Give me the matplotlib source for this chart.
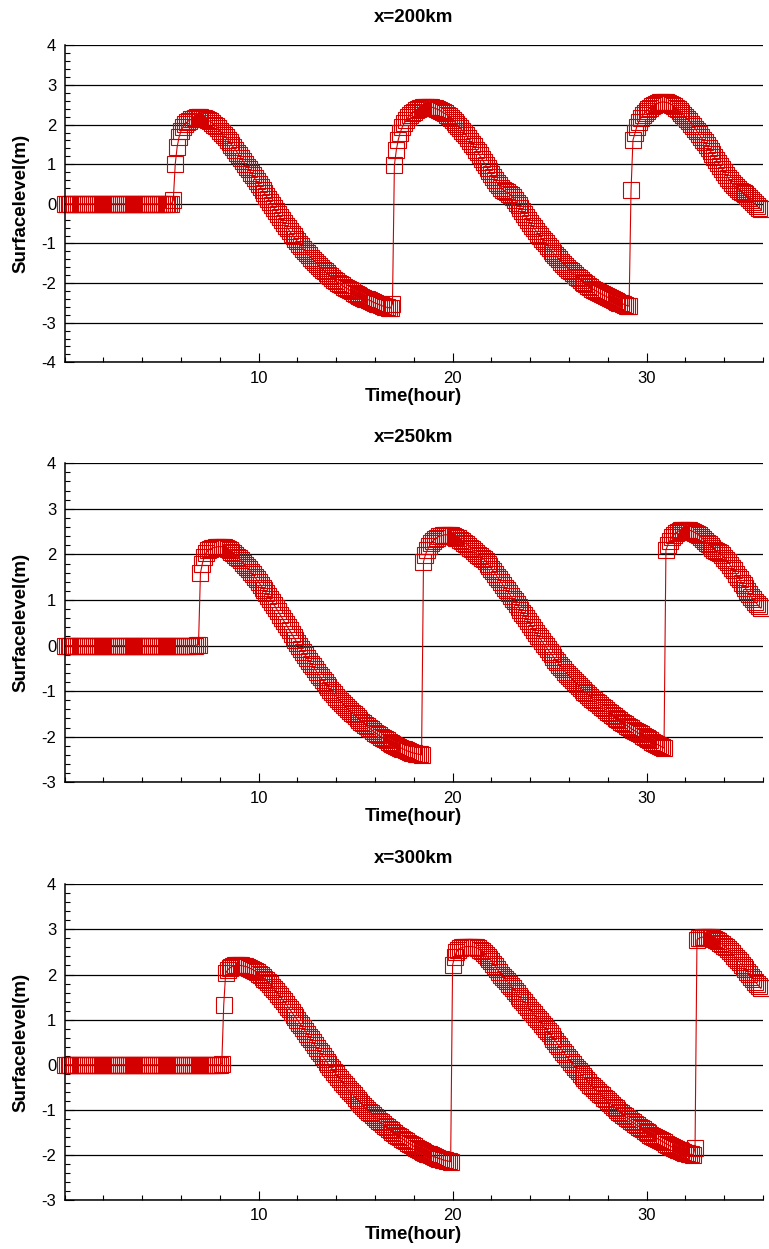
import numpy as np
import matplotlib
matplotlib.use("Agg")
import matplotlib.pyplot as plt
from matplotlib.ticker import MultipleLocator

plt.rcParams['font.family'] = ['Liberation Sans', 'DejaVu Sans']
plt.rcParams['axes.unicode_minus'] = False

# Sampling times (hours), one record every 0.1 h
hours = np.round(np.arange(360) * 0.1, 1)

# Surface level (m) at x = 200 km, one row per hour
level_200km = [
    0, 0, 0, 0, 0, 0, 0, 0, 0, 0,
    0, 0, 0, 0, 0, 0, 0, 0, 0, 0,
    0, 0, 0, 0, 0, 0, 0, 0, 0, 0,
    0, 0, 0, 0, 0, 0, 0, 0, 0, 0,
    0, 0, 0, 0, 0, 0, 0, 0, 0, 0,
    0, 0, 0, 0, 0, 0, 0.09, 1.0, 1.44, 1.69,
    1.84, 1.94, 2.01, 2.06, 2.1, 2.13, 2.15, 2.17, 2.18, 2.18,
    2.18, 2.17, 2.16, 2.14, 2.11, 2.08, 2.04, 2.0, 1.96, 1.91,
    1.85, 1.8, 1.74, 1.68, 1.62, 1.56, 1.49, 1.43, 1.36, 1.29,
    1.22, 1.15, 1.08, 1.01, 0.94, 0.87, 0.79, 0.72, 0.64, 0.57,
    0.49, 0.42, 0.34, 0.27, 0.19, 0.12, 0.04, -0.04, -0.11, -0.19,
    -0.26, -0.34, -0.41, -0.48, -0.55, -0.62, -0.69, -0.76, -0.82, -0.89,
    -0.95, -1.01, -1.07, -1.13, -1.19, -1.25, -1.3, -1.36, -1.41, -1.46,
    -1.51, -1.56, -1.61, -1.66, -1.7, -1.75, -1.79, -1.83, -1.87, -1.91,
    -1.95, -1.99, -2.02, -2.06, -2.09, -2.12, -2.15, -2.18, -2.21, -2.24,
    -2.27, -2.3, -2.32, -2.35, -2.37, -2.39, -2.41, -2.43, -2.45, -2.48,
    -2.5, -2.52, -2.54, -2.56, -2.58, -2.6, -2.61, -2.62, -2.63, -2.52,
    0.98, 1.36, 1.62, 1.8, 1.93, 2.03, 2.11, 2.18, 2.24, 2.29,
    2.33, 2.36, 2.39, 2.41, 2.43, 2.44, 2.45, 2.45, 2.45, 2.44,
    2.43, 2.41, 2.39, 2.37, 2.34, 2.31, 2.28, 2.25, 2.21, 2.17,
    2.12, 2.07, 2.02, 1.97, 1.91, 1.85, 1.79, 1.73, 1.66, 1.59,
    1.52, 1.45, 1.37, 1.3, 1.22, 1.14, 1.06, 0.98, 0.9, 0.82,
    0.75, 0.67, 0.6, 0.53, 0.47, 0.41, 0.36, 0.32, 0.29, 0.26,
    0.22, 0.16, 0.1, 0.03, -0.04, -0.11, -0.19, -0.26, -0.34, -0.41,
    -0.48, -0.55, -0.62, -0.68, -0.75, -0.81, -0.88, -0.94, -1.0, -1.06,
    -1.12, -1.18, -1.24, -1.29, -1.35, -1.4, -1.46, -1.51, -1.56, -1.61,
    -1.66, -1.7, -1.75, -1.79, -1.84, -1.88, -1.92, -1.96, -2.0, -2.03,
    -2.07, -2.1, -2.14, -2.17, -2.2, -2.23, -2.26, -2.28, -2.31, -2.33,
    -2.36, -2.38, -2.41, -2.43, -2.45, -2.47, -2.49, -2.51, -2.53, -2.55,
    -2.57, -2.58, 0.35, 1.61, 1.78, 1.95, 2.07, 2.16, 2.23, 2.29,
    2.34, 2.39, 2.43, 2.47, 2.5, 2.52, 2.54, 2.56, 2.57, 2.57,
    2.56, 2.55, 2.53, 2.5, 2.47, 2.43, 2.39, 2.34, 2.29, 2.24,
    2.19, 2.14, 2.08, 2.02, 1.96, 1.9, 1.83, 1.76, 1.69, 1.62,
    1.55, 1.48, 1.4, 1.33, 1.25, 1.18, 1.1, 1.03, 0.95, 0.88,
    0.8, 0.73, 0.66, 0.59, 0.53, 0.47, 0.42, 0.37, 0.33, 0.3,
    0.27, 0.24, 0.2, 0.15, 0.1, 0.04, -0.01, -0.06, -0.1, -0.14,
]

# Surface level (m) at x = 250 km, one row per hour
level_250km = [
    0, 0, 0, 0, 0, 0, 0, 0, 0, 0,
    0, 0, 0, 0, 0, 0, 0, 0, 0, 0,
    0, 0, 0, 0, 0, 0, 0, 0, 0, 0,
    0, 0, 0, 0, 0, 0, 0, 0, 0, 0,
    0, 0, 0, 0, 0, 0, 0, 0, 0, 0,
    0, 0, 0, 0, 0, 0, 0, 0, 0, 0,
    0, 0, 0, 0, 0, 0, 0, 0, 0.01, 0.02,
    1.59, 1.8, 1.95, 2.04, 2.09, 2.12, 2.14, 2.15, 2.16, 2.17,
    2.17, 2.17, 2.16, 2.14, 2.12, 2.09, 2.06, 2.03, 1.99, 1.95,
    1.91, 1.87, 1.82, 1.77, 1.72, 1.67, 1.61, 1.56, 1.5, 1.45,
    1.39, 1.33, 1.27, 1.21, 1.15, 1.09, 1.02, 0.96, 0.89, 0.82,
    0.75, 0.68, 0.61, 0.54, 0.47, 0.4, 0.33, 0.26, 0.19, 0.12,
    0.05, -0.02, -0.08, -0.15, -0.21, -0.28, -0.34, -0.4, -0.46, -0.52,
    -0.58, -0.64, -0.7, -0.76, -0.81, -0.87, -0.92, -0.97, -1.02, -1.07,
    -1.12, -1.17, -1.21, -1.26, -1.3, -1.35, -1.39, -1.43, -1.47, -1.51,
    -1.55, -1.59, -1.63, -1.67, -1.7, -1.74, -1.77, -1.81, -1.84, -1.88,
    -1.91, -1.94, -1.97, -2.0, -2.03, -2.06, -2.08, -2.11, -2.13, -2.16,
    -2.18, -2.2, -2.22, -2.24, -2.26, -2.28, -2.3, -2.32, -2.33, -2.35,
    -2.36, -2.37, -2.38, -2.39, -2.4, 1.84, 1.99, 2.1, 2.18, 2.25,
    2.3, 2.34, 2.37, 2.4, 2.41, 2.42, 2.43, 2.43, 2.43, 2.42,
    2.41, 2.39, 2.37, 2.35, 2.32, 2.29, 2.26, 2.23, 2.19, 2.15,
    2.11, 2.07, 2.03, 1.99, 1.96, 1.93, 1.9, 1.85, 1.8, 1.75,
    1.69, 1.63, 1.57, 1.51, 1.45, 1.39, 1.33, 1.27, 1.21, 1.15,
    1.09, 1.03, 0.97, 0.91, 0.85, 0.78, 0.72, 0.66, 0.6, 0.53,
    0.47, 0.41, 0.34, 0.28, 0.22, 0.16, 0.1, 0.04, -0.02, -0.08,
    -0.14, -0.19, -0.25, -0.31, -0.36, -0.42, -0.47, -0.52, -0.57, -0.62,
    -0.66, -0.71, -0.75, -0.8, -0.84, -0.88, -0.93, -0.97, -1.01, -1.05,
    -1.09, -1.13, -1.17, -1.2, -1.24, -1.27, -1.31, -1.35, -1.38, -1.41,
    -1.45, -1.48, -1.52, -1.55, -1.58, -1.61, -1.64, -1.67, -1.7, -1.73,
    -1.76, -1.79, -1.82, -1.85, -1.87, -1.9, -1.93, -1.95, -1.98, -2.0,
    -2.03, -2.06, -2.08, -2.11, -2.13, -2.16, -2.18, -2.2, -2.23, -2.25,
    2.1, 2.21, 2.3, 2.38, 2.43, 2.47, 2.5, 2.52, 2.53, 2.54,
    2.54, 2.54, 2.53, 2.52, 2.5, 2.48, 2.45, 2.42, 2.38, 2.34,
    2.3, 2.26, 2.22, 2.18, 2.14, 2.1, 2.07, 2.05, 2.02, 1.98,
    1.93, 1.88, 1.83, 1.77, 1.71, 1.65, 1.58, 1.51, 1.45, 1.38,
    1.32, 1.26, 1.19, 1.13, 1.07, 1.02, 0.96, 0.91, 0.86, 0.82,
]

# Surface level (m) at x = 300 km, one row per hour
level_300km = [
    0, 0, 0, 0, 0, 0, 0, 0, 0, 0,
    0, 0, 0, 0, 0, 0, 0, 0, 0, 0,
    0, 0, 0, 0, 0, 0, 0, 0, 0, 0,
    0, 0, 0, 0, 0, 0, 0, 0, 0, 0,
    0, 0, 0, 0, 0, 0, 0, 0, 0, 0,
    0, 0, 0, 0, 0, 0, 0, 0, 0, 0,
    0, 0, 0, 0, 0, 0, 0, 0, 0, 0,
    0, 0, 0, 0, 0, 0, 0, 0, 0, 0,
    0, 0.02, 1.32, 2.03, 2.1, 2.14, 2.17, 2.19, 2.2, 2.2,
    2.2, 2.2, 2.19, 2.18, 2.17, 2.15, 2.13, 2.11, 2.08, 2.05,
    2.02, 1.99, 1.95, 1.91, 1.87, 1.83, 1.78, 1.73, 1.68, 1.63,
    1.57, 1.52, 1.46, 1.41, 1.35, 1.29, 1.23, 1.17, 1.11, 1.05,
    0.99, 0.93, 0.87, 0.81, 0.75, 0.68, 0.62, 0.56, 0.5, 0.43,
    0.37, 0.31, 0.25, 0.19, 0.13, 0.07, 0.01, -0.05, -0.1, -0.16,
    -0.21, -0.27, -0.32, -0.38, -0.43, -0.48, -0.53, -0.58, -0.63, -0.68,
    -0.73, -0.78, -0.82, -0.87, -0.91, -0.96, -1.0, -1.04, -1.08, -1.12,
    -1.16, -1.2, -1.24, -1.28, -1.31, -1.35, -1.38, -1.42, -1.45, -1.49,
    -1.52, -1.55, -1.58, -1.61, -1.64, -1.67, -1.7, -1.73, -1.76, -1.78,
    -1.81, -1.84, -1.86, -1.89, -1.91, -1.93, -1.95, -1.97, -1.99, -2.01,
    -2.03, -2.05, -2.06, -2.08, -2.09, -2.11, -2.12, -2.13, -2.14, -2.15,
    2.21, 2.39, 2.5, 2.55, 2.58, 2.6, 2.61, 2.62, 2.62, 2.62,
    2.62, 2.61, 2.6, 2.58, 2.55, 2.52, 2.48, 2.44, 2.39, 2.35,
    2.3, 2.24, 2.18, 2.12, 2.06, 2.0, 1.95, 1.9, 1.85, 1.8,
    1.75, 1.7, 1.64, 1.58, 1.53, 1.48, 1.43, 1.38, 1.33, 1.28,
    1.22, 1.17, 1.12, 1.06, 1.01, 0.96, 0.91, 0.85, 0.8, 0.75,
    0.7, 0.64, 0.58, 0.52, 0.47, 0.41, 0.35, 0.29, 0.23, 0.17,
    0.12, 0.07, 0.01, -0.04, -0.1, -0.15, -0.2, -0.25, -0.3, -0.34,
    -0.39, -0.44, -0.48, -0.52, -0.56, -0.6, -0.64, -0.68, -0.73, -0.77,
    -0.81, -0.85, -0.89, -0.93, -0.97, -1.0, -1.04, -1.07, -1.11, -1.14,
    -1.18, -1.21, -1.25, -1.28, -1.31, -1.34, -1.37, -1.4, -1.43, -1.46,
    -1.49, -1.52, -1.55, -1.57, -1.6, -1.62, -1.65, -1.67, -1.7, -1.72,
    -1.75, -1.77, -1.8, -1.82, -1.84, -1.86, -1.88, -1.9, -1.92, -1.93,
    -1.95, -1.96, -1.98, -1.99, -2.0, -1.85, 2.77, 2.8, 2.82, 2.83,
    2.84, 2.84, 2.84, 2.83, 2.81, 2.79, 2.76, 2.74, 2.7, 2.67,
    2.63, 2.6, 2.56, 2.52, 2.47, 2.42, 2.37, 2.32, 2.27, 2.22,
    2.17, 2.12, 2.06, 2.01, 1.95, 1.9, 1.84, 1.79, 1.74, 1.69,
]

titles = ["x=200km", "x=250km", "x=300km"]
series = [level_200km, level_250km, level_300km]
y_limits = [(-4, 4), (-3, 4), (-3, 4)]
x_major_ticks = [10, 20, 30]
x_label = "Time(hour)"
y_label = "Surfacelevel(m)"

red = "#d40000"
fig = plt.figure(figsize=(7.69, 12.49), dpi=100)

rects = [
    [0.0841, 0.7099, 0.908, 0.2538],
    [0.0841, 0.3737, 0.908, 0.2554],
    [0.0841, 0.0392, 0.908, 0.2528],
]
title_pads = [17.0, 15.0, 15.0]

for rect, title, levels, ylim, tpad in zip(rects, titles, series, y_limits, title_pads):
    ax = fig.add_axes(rect)
    ax.plot(hours, levels, color=red, lw=0.8, marker="s", ms=11.5,
            mfc="none", mec=red, mew=0.8, clip_on=False, zorder=3)
    ax.set_xlim(0, 36)
    ax.set_ylim(*ylim)
    ax.set_xticks(x_major_ticks)
    ax.xaxis.set_minor_locator(MultipleLocator(2))
    ax.yaxis.set_major_locator(MultipleLocator(1))
    ax.yaxis.set_minor_locator(MultipleLocator(0.2))
    ax.grid(axis="y", which="major", color="black", lw=0.9)
    ax.set_axisbelow(True)
    for side in ("top", "right"):
        ax.spines[side].set_visible(False)
    for side in ("left", "bottom"):
        ax.spines[side].set_linewidth(1.1)
        ax.spines[side].set_zorder(4)
    ax.tick_params(which="both", direction="in", width=0.8, labelsize=12, pad=6)
    ax.tick_params(which="major", length=6.5)
    ax.tick_params(which="minor", length=3.8)
    ax.set_title(title, fontsize=13.5, fontweight="bold", pad=tpad)
    ax.set_xlabel(x_label, fontsize=13.5, fontweight="bold", labelpad=2)
    ax.set_ylabel(y_label, fontsize=13.5, fontweight="bold")
    ax.yaxis.set_label_coords(-0.051, 0.5)

fig.savefig("out.png", dpi=100)
